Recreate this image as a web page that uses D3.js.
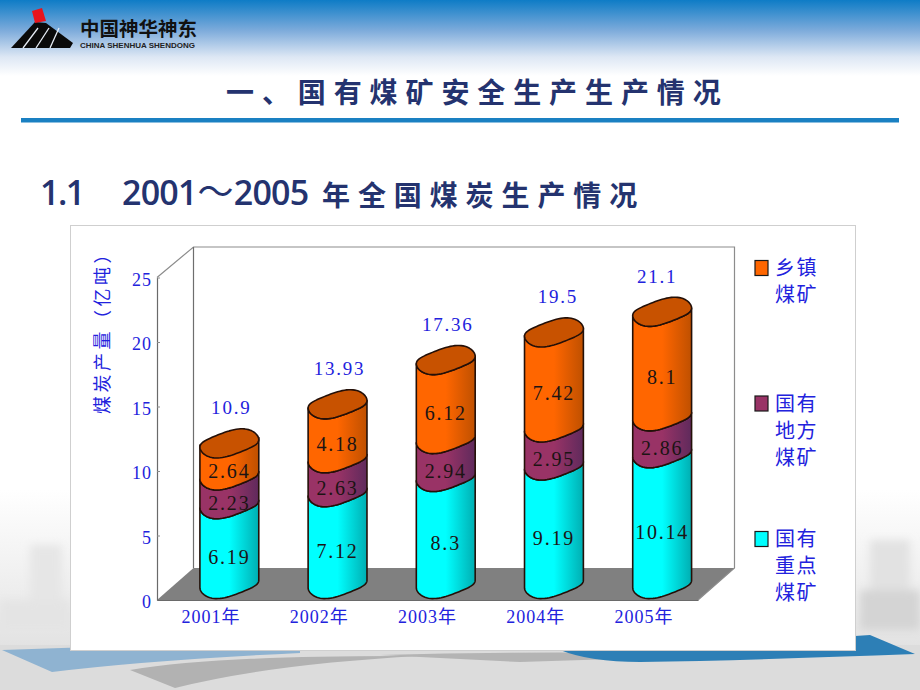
<!DOCTYPE html>
<html>
<head>
<meta charset="utf-8">
<script src="https://cdn.jsdelivr.net/npm/d3@7"></script>
<style>
  html, body { margin: 0; padding: 0; background: #fff; }
  svg { display: block; }
</style>
</head>
<body>
<svg id="chart" width="920" height="690"></svg>
<script>
// values
const categories = ["2001年", "2002年", "2003年", "2004年", "2005年"];
const keyMines = [6.19, 7.12, 8.3, 9.19, 10.14];
const localMines = [2.23, 2.63, 2.94, 2.95, 2.86];
const townMines = [2.64, 4.18, 6.12, 7.42, 8.1];
const totals = [10.9, 13.93, 17.36, 19.5, 21.1];
const yTicks = [0, 5, 10, 15, 20, 25];

const pageTitle = "一、国有煤矿安全生产生产情况";
const sectionNo = "1.1";
const sectionFrom = "2001";
const sectionDash = "～";
const sectionTo = "2005";
const sectionText = "年全国煤炭生产情况";
const yAxisTitle = "煤炭产量（亿吨）";

const seriesKeys = ["key", "local", "town"];
const seriesValues = { key: keyMines, local: localMines, town: townMines };
const seriesLines = {
  town: ["乡镇", "煤矿"],
  local: ["国有", "地方", "煤矿"],
  key: ["国有", "重点", "煤矿"]
};
const seriesColors = {
  key: ["#00ffff", "#00aeb2"],
  local: ["#993366", "#5f2a5c"],
  town: ["#ff6600", "#bf5000"]
};
const capColor = "#c85200";

const svg = d3.select("#chart");
const defs = svg.append("defs");
const BLUE = "#2222dd";
const NAVY = "#24336f";
const CJK = "'Noto Sans CJK SC', 'Noto Sans', sans-serif";
const NUM = "'Liberation Serif', 'Noto Sans CJK SC', serif";
const LATIN = "'Open Sans', sans-serif";

// ---- slide background ----
let head = defs.append("linearGradient").attr("id", "head").attr("x1", 0).attr("x2", 0).attr("y1", 0).attr("y2", 1);
head.append("stop").attr("offset", 0).attr("stop-color", "#0e7cc6");
head.append("stop").attr("offset", 0.4).attr("stop-color", "#7dabdb");
head.append("stop").attr("offset", 0.75).attr("stop-color", "#dde7f4");
head.append("stop").attr("offset", 1).attr("stop-color", "#ffffff");

let fade = defs.append("linearGradient").attr("id", "fade").attr("x1", 0).attr("x2", 0).attr("y1", 0).attr("y2", 1);
fade.append("stop").attr("offset", 0).attr("stop-color", "#ffffff");
fade.append("stop").attr("offset", 0.6).attr("stop-color", "#eaeaea");
fade.append("stop").attr("offset", 1).attr("stop-color", "#d9d9d9");

defs.append("filter").attr("id", "soft").append("feGaussianBlur").attr("stdDeviation", 4);

svg.append("rect").attr("width", 920).attr("height", 690).attr("fill", "#fff");
svg.append("rect").attr("width", 920).attr("height", 76).attr("fill", "url(#head)");
svg.append("rect").attr("y", 490).attr("width", 920).attr("height", 200).attr("fill", "url(#fade)");

// faint plant photo behind the card
let photo = svg.append("g").attr("filter", "url(#soft)");
[[30, 545, 32, 75, "#e6e6e6"], [0, 600, 70, 30, "#e4e4e4"], [860, 590, 60, 40, "#d4d4d4"], [870, 540, 40, 50, "#e2e2e2"]]
  .forEach(r => photo.append("rect").attr("x", r[0]).attr("y", r[1]).attr("width", r[2]).attr("height", r[3]).attr("fill", r[4]));

svg.append("rect").attr("y", 645).attr("width", 920).attr("height", 45).attr("fill", "#dcdcdc");
svg.append("path").attr("d", "M2,650 L52,672 Q150,660 300,653 L300,640 L2,650 Z").attr("fill", "#8fb3d1");
svg.append("path").attr("d", "M130,670 Q220,655 420,656 Q270,664 175,688 Z").attr("fill", "#b2b2b2");
svg.append("path").attr("d", "M380,655 Q560,650 740,655 L520,662 Z").attr("fill", "#b4b4b4");
svg.append("path").attr("d", "M560,650 L855,636 L870,635 L915,654 Q760,660 640,662 Q590,662 560,650 Z").attr("fill", "#2d7fb6");

// ---- logo ----
let logo = svg.append("g");
logo.append("path").attr("d", "M11,48 L35,22 L46,23 L73,43 L70,48 Z").attr("fill", "#0a0a0a");
logo.append("path").attr("d", "M32,11 L42,8 L46,21 L35,23 Z").attr("fill", "#e8141c");
[[23, 38], [36, 49], [50, 59]].forEach(p =>
  logo.append("line").attr("x1", p[0]).attr("y1", 48).attr("x2", p[1]).attr("y2", 28)
    .attr("stroke", "#e8eef6").attr("stroke-width", 1.3));
logo.append("text").attr("x", 80).attr("y", 36).text("中国神华神东")
  .attr("font-family", CJK).attr("font-weight", 700).attr("font-size", 19.5).attr("fill", "#111");
logo.append("text").attr("x", 80).attr("y", 48).text("CHINA SHENHUA SHENDONG")
  .attr("font-family", "'Liberation Sans', sans-serif").attr("font-weight", 700).attr("font-size", 8).attr("fill", "#222");

// ---- headings ----
svg.append("text").attr("x", 226).attr("y", 103).text(pageTitle)
  .attr("font-family", CJK).attr("font-weight", 700).attr("font-size", 28)
  .attr("letter-spacing", 7.9).attr("fill", NAVY);
svg.append("rect").attr("x", 21).attr("y", 118).attr("width", 878).attr("height", 4.5).attr("fill", "#1a80c2");

svg.append("text").attr("x", 40).attr("y", 205).text(sectionNo)
  .attr("font-family", LATIN).attr("font-weight", 600).attr("font-size", 34).attr("letter-spacing", -1.5).attr("fill", NAVY);
let years = svg.append("text").attr("x", 122).attr("y", 205)
  .attr("font-family", LATIN).attr("font-weight", 600).attr("font-size", 34).attr("letter-spacing", -0.8).attr("fill", NAVY);
years.append("tspan").text(sectionFrom);
years.append("tspan").attr("font-family", CJK).attr("font-weight", 400).attr("font-size", 36).attr("dx", 1).text(sectionDash);
years.append("tspan").attr("dx", 1).text(sectionTo);
svg.append("text").attr("x", 322).attr("y", 206).text(sectionText)
  .attr("font-family", CJK).attr("font-weight", 700).attr("font-size", 28)
  .attr("letter-spacing", 7.9).attr("fill", NAVY);

// ---- chart card ----
svg.append("rect").attr("x", 70.5).attr("y", 225.5).attr("width", 785).attr("height", 425)
  .attr("fill", "#fff").attr("stroke", "#cfcfcf");

const x0 = 157, x1 = 698, yBase = 600, yTop = 277.5;
const depthX = 36.5, depthY = 32;

const x = d3.scaleBand().domain(categories).range([x0, x1]);
const y = d3.scaleLinear().domain([0, 25]).range([yBase, yTop]);

// back wall + floor of the 3d box
svg.append("path")
  .attr("d", d3.line()([[x0, yBase], [x1, yBase], [x1 + depthX, yBase - depthY], [x0 + depthX, yBase - depthY]]) + "Z")
  .attr("fill", "#808080");
svg.append("path")
  .attr("d", d3.line()([[x0, yTop], [x0 + depthX, yTop - depthY + 1.5], [x1 + depthX, yTop - depthY + 1.5], [x1 + depthX, yBase - depthY], [x1, yBase]]))
  .attr("fill", "none").attr("stroke", "#8c8c8c").attr("stroke-width", 1.2);
svg.append("line")
  .attr("x1", x0 + depthX).attr("x2", x0 + depthX).attr("y1", yTop - depthY + 1.5).attr("y2", yBase - depthY)
  .attr("stroke", "#6e6e6e").attr("stroke-width", 1.2);

// axes
let yAxis = svg.append("g").attr("transform", `translate(${x0},0)`)
  .call(d3.axisLeft(y).tickValues(yTicks).tickSize(-3).tickSizeOuter(0).tickPadding(5));
yAxis.select(".domain").attr("stroke", "#6a6a6a").attr("stroke-width", 1.2);
yAxis.selectAll(".tick line").attr("stroke", "#8c8c8c");
yAxis.selectAll("text").attr("font-family", NUM).attr("font-size", 18).attr("letter-spacing", 1)
  .attr("fill", BLUE).attr("dy", "0.42em");

let xAxis = svg.append("g").attr("transform", `translate(0,${yBase})`)
  .call(d3.axisBottom(x).tickSize(0).tickPadding(10));
xAxis.select(".domain").attr("stroke", "#6a6a6a");
xAxis.selectAll("text").attr("font-family", NUM).attr("font-size", 18).attr("letter-spacing", 1)
  .attr("fill", BLUE).attr("dy", "0.72em");

svg.append("text")
  .attr("transform", "translate(109,328) rotate(-90)")
  .attr("text-anchor", "middle").text(yAxisTitle)
  .attr("font-family", CJK).attr("font-size", 18).attr("letter-spacing", 3.5).attr("fill", BLUE);

// ---- gradients of the cylinders ----
seriesKeys.forEach(k => {
  let g = defs.append("linearGradient").attr("id", "grad-" + k);
  g.append("stop").attr("offset", 0).attr("stop-color", seriesColors[k][0]);
  g.append("stop").attr("offset", 0.5).attr("stop-color", seriesColors[k][0]);
  g.append("stop").attr("offset", 1).attr("stop-color", seriesColors[k][1]);
});

// ---- cylinders ----
const floorLift = yBase - y(0) + 16;   // centre of the base ellipse sits above the front edge
const radX = x.bandwidth() * 0.272, radY = 12.5, skew = 5, wobble = 1.2;

function rim(cx, cy, t) {
  return [cx + radX * Math.cos(t),
          cy + radY * Math.sin(t) - skew * Math.cos(t) + wobble * Math.cos(3 * t)];
}

const arcFront = d3.range(0, 41).map(i => Math.PI * i / 40);       // right to left through the front
const arcFull = d3.range(0, 81).map(i => 2 * Math.PI * i / 80);
const path = d3.line();

function sidePath(cx, yLow, yHigh) {
  let upper = arcFront.map(t => rim(cx, yHigh, t));
  let lower = arcFront.slice().reverse().map(t => rim(cx, yLow, t));
  return path(upper.concat(lower)) + "Z";
}

const stacked = d3.stack().keys(seriesKeys).value((d, k) => seriesValues[k][d])(d3.range(categories.length));
const cxOf = i => x(categories[i]) + x.bandwidth() / 2 + depthX / 2;
const cyOf = v => y(v) - floorLift;

let bars = svg.append("g").attr("stroke", "#241008").attr("stroke-width", 1.6).attr("stroke-linejoin", "round");

categories.forEach((cat, i) => {
  stacked.forEach(layer => {
    bars.append("path")
      .attr("d", sidePath(cxOf(i), cyOf(layer[i][0]), cyOf(layer[i][1])))
      .attr("fill", `url(#grad-${layer.key})`);
  });
  bars.append("path")
    .attr("d", path(arcFull.map(t => rim(cxOf(i), cyOf(totals[i]), t))) + "Z")
    .attr("fill", capColor);
});

// value labels inside the segments
stacked.forEach(layer => {
  svg.append("g").selectAll("text").data(layer).enter().append("text")
    .attr("x", (d, i) => cxOf(i))
    .attr("y", d => cyOf((d[0] + d[1]) / 2) + 20)
    .attr("text-anchor", "middle")
    .text((d, i) => seriesValues[layer.key][i])
    .attr("font-family", NUM).attr("font-size", 20).attr("letter-spacing", 1.8).attr("fill", "#1c1414");
});

// totals above the bars, the last one sits a little left in the original
const totalShift = [2, 2, 2, 4, -5];
svg.append("g").selectAll("text").data(totals).enter().append("text")
  .attr("x", (d, i) => cxOf(i) + totalShift[i])
  .attr("y", d => cyOf(d) - 29)
  .attr("text-anchor", "middle")
  .text(d => d)
  .attr("font-family", NUM).attr("font-size", 19).attr("letter-spacing", 1.8).attr("fill", BLUE);

// ---- legend ----
const legendY = d3.scalePoint().domain(["town", "local", "key"]).range([268, 539]);
let legend = svg.append("g").selectAll("g").data(["town", "local", "key"]).enter().append("g")
  .attr("transform", k => `translate(755,${legendY(k)})`);
legend.append("rect").attr("y", -7.5).attr("width", 13).attr("height", 15)
  .attr("fill", k => seriesColors[k][0])
  .attr("stroke", "#1a1a1a").attr("stroke-width", 1.2);
legend.each(function(k) {
  let t = d3.select(this).append("text").attr("font-family", CJK).attr("font-size", 20)
    .attr("letter-spacing", 1.5).attr("fill", BLUE);
  seriesLines[k].forEach((line, i) => t.append("tspan").attr("x", 20).attr("y", 7 + i * 27).text(line));
});
</script>
</body>
</html>
